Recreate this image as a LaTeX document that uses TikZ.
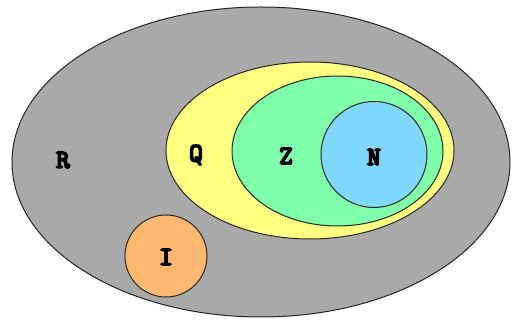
\documentclass[tikz,border=0pt]{standalone}
\usepackage{fontspec}
\newfontfamily\lblfont[FakeBold=7]{Latin Modern Mono}
\definecolor{cgray}{HTML}{A9A9A9}
\definecolor{cyellow}{HTML}{FFFF80}
\definecolor{cgreen}{HTML}{7FFFAA}
\definecolor{cblue}{HTML}{80D8FF}
\definecolor{corange}{HTML}{FFB870}
\tikzset{
  setshape/.style={draw=black!85, line width=1pt},
  lbl/.style={font=\lblfont\fontsize{26}{26}\selectfont, inner sep=0pt}
}
\begin{document}
\begin{tikzpicture}[x=1pt,y=-1pt]
\useasboundingbox (0,0) rectangle (512,320);
\fill[white] (0,0) rectangle (512,320);
\draw[setshape, fill=cgray] (261,162) ellipse [x radius=249, y radius=155];
\draw[setshape, fill=cyellow] (310,150.5) ellipse [x radius=144, y radius=88.5];
\draw[setshape, fill=cgreen] (337.5,151) ellipse [x radius=105.5, y radius=75];
\draw[setshape, fill=cblue] (374,154.5) circle [radius=53];
\draw[setshape, fill=corange] (166,256) circle [radius=41];
\node[lbl] (R) at (63,160) {R};
\node[lbl] (Q) at (196,155) {Q};
\node[lbl] (Z) at (286,156) {Z};
\node[lbl] (N) at (374,157) {N};
\node[lbl] (I) at (166,257) {I};
\end{tikzpicture}
\end{document}
